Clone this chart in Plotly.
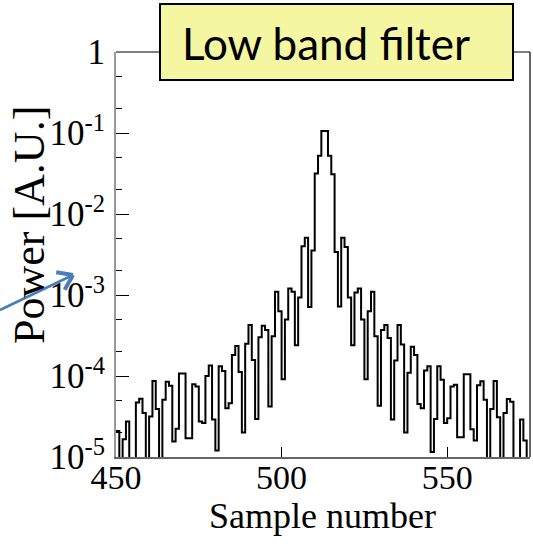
import math
import plotly.graph_objects as go

# ---------------- data ----------------
sample_start = 450          # first bin (bins of width 1)
power = [
    2.1e-5, 1e-6, 1.66e-5, 2.75e-5, 1e-6, 1e-6, 4.7e-5, 5.25e-5, 3.5e-5, 1e-6,        # 450-459
    3.16e-5, 8.7e-5, 3.9e-5, 1e-6, 5.1e-5, 8.5e-5, 7.6e-5, 1.55e-5, 2.24e-5, 1.07e-4, # 460-469
    1.07e-4, 1.7e-5, 1.7e-5, 7.9e-5, 7.4e-5, 2.75e-5, 2.63e-5, 1.0e-4, 1.35e-4, 2.9e-5, # 470-479
    1.2e-5, 1.32e-4, 1.15e-4, 4.0e-5, 4.6e-5, 1.82e-4, 2.34e-4, 1.12e-4, 2.0e-5, 2.5e-4, # 480-489
    4.27e-4, 1.58e-4, 2.95e-5, 3.0e-4, 4.17e-4, 3.7e-4, 4.2e-5, 3.1e-4, 1.1e-3, 6.3e-4, # 490-499
    9.1e-5, 5.0e-4, 1.2e-3, 1.1e-3, 2.4e-4, 9.3e-4, 4.0e-3, 5.1e-3, 7.1e-4, 3.55e-3,  # 500-509
    3.16e-2, 5.25e-2, 0.106, 0.106, 5.25e-2, 3.1e-2, 3.4e-3, 7.2e-4, 5.1e-3, 3.9e-3,  # 510-519
    9.3e-4, 2.4e-4, 1.07e-3, 1.2e-3, 5.0e-4, 9.1e-5, 6.3e-4, 1.1e-3, 3.1e-4, 4.3e-5,  # 520-529
    3.7e-4, 4.27e-4, 2.95e-4, 2.9e-5, 1.55e-4, 4.27e-4, 2.45e-4, 2.0e-5, 1.1e-4, 2.3e-4, # 530-539
    1.82e-4, 4.5e-5, 4.0e-5, 1.17e-4, 1.32e-4, 1.15e-5, 2.95e-5, 1.32e-4, 9.0e-5, 2.63e-5, # 540-549
    3.0e-5, 7.4e-5, 7.8e-5, 1.75e-5, 1.75e-5, 1.05e-4, 1.05e-4, 2.2e-5, 1.6e-5, 7.7e-5, # 550-559
    8.6e-5, 5.1e-5, 1e-6, 3.9e-5, 8.7e-5, 3.1e-5, 1e-6, 3.5e-5, 5.2e-5, 4.8e-5,      # 560-569
    1e-6, 1e-6, 2.9e-5, 1.6e-5, 1e-6,                                                 # 570-574
]
x_tick_vals = [450, 500, 550]
y_tick_vals = [1e-5, 1e-4, 1e-3, 1e-2, 1e-1, 1]
y_tick_text = ["10<sup>-5</sup>", "10<sup>-4</sup>", "10<sup>-3</sup>",
               "10<sup>-2</sup>", "10<sup>-1</sup>", "1"]
title_text = "Low band filter"
x_label = "Sample number"
y_label = "Power [A.U.]"

# ---------------- figure ----------------
W, H = 533, 548
ML, MR, MT, MB = 116, 3, 52, 91
PW, PH = W - ML - MR, H - MT - MB

def px(xp):  # pixel -> paper x
    return (xp - ML) / PW

def py(yp):  # pixel -> paper y
    return (H - MB - yp) / PH

edges = [sample_start + i for i in range(len(power) + 1)]
steps = power + [power[-1]]

fig = go.Figure()
fig.add_trace(go.Scatter(
    x=edges, y=steps, mode="lines", line_shape="hv",
    line=dict(color="black", width=2), hoverinfo="skip", showlegend=False))

serif = "Liberation Serif"
fig.update_layout(
    width=W, height=H, margin=dict(l=ML, r=MR, t=MT, b=MB),
    paper_bgcolor="white", plot_bgcolor="white", showlegend=False,
    xaxis=dict(range=[sample_start, sample_start + len(power)],
               tickvals=x_tick_vals, ticks="inside", ticklen=10, tickwidth=1,
               tickcolor="black", showgrid=False, zeroline=False,
               showline=True, linecolor="#666", linewidth=1.5,
               ticklabelstandoff=-11,
               tickfont=dict(family=serif, size=34, color="black")),
    yaxis=dict(type="log", range=[-5, 0], tickvals=y_tick_vals, ticktext=y_tick_text,
               ticks="inside", ticklen=13, tickwidth=1.2, tickcolor="black",
               minor=dict(ticks="inside", ticklen=6, tickcolor="black", tickwidth=1, showgrid=False),
               showgrid=False, zeroline=False, showline=True, linecolor="#999", linewidth=2,
               ticklabelstandoff=2,
               tickfont=dict(family=serif, size=35, color="black")),
)

# top & right frame
fig.add_shape(type="line", xref="paper", yref="paper", x0=0, x1=1, y0=1, y1=1,
              line=dict(color="black", width=1.2))
fig.add_shape(type="line", xref="paper", yref="paper", x0=1, x1=1, y0=0, y1=1,
              line=dict(color="black", width=1.2))

# title box
fig.add_shape(type="rect", xref="paper", yref="paper",
              x0=px(160), x1=px(513), y0=py(80), y1=py(4),
              fillcolor="#f5f6a2", line=dict(color="black", width=2), layer="above")
fig.add_annotation(xref="paper", yref="paper", x=px(180), y=py(43),
                   xanchor="left", yanchor="middle", showarrow=False,
                   text=title_text, font=dict(family="Lato", size=44, color="black"))

# axis titles
fig.add_annotation(xref="paper", yref="paper", x=px(322), y=py(516),
                   xanchor="center", yanchor="middle", showarrow=False,
                   text=x_label, font=dict(family=serif, size=36, color="black"))
fig.add_annotation(xref="paper", yref="paper", x=px(29), y=py(225),
                   xanchor="center", yanchor="middle", showarrow=False, textangle=-90,
                   text=y_label, font=dict(family=serif, size=44, color="black"))

# blue arrow
tail = (0, 310)
tip = (73, 275)
blue = "rgb(74,126,187)"
fig.add_shape(type="line", xref="paper", yref="paper",
              x0=px(tail[0]), y0=py(tail[1]), x1=px(tip[0]), y1=py(tip[1]),
              line=dict(color=blue, width=2.5))
ang = math.atan2(tip[1] - tail[1], tip[0] - tail[0])
for d in (math.radians(35), -math.radians(35)):
    a = ang + math.pi + d
    wx, wy = tip[0] + 17 * math.cos(a), tip[1] + 17 * math.sin(a)
    fig.add_shape(type="line", xref="paper", yref="paper",
                  x0=px(tip[0]), y0=py(tip[1]), x1=px(wx), y1=py(wy),
                  line=dict(color=blue, width=4))

fig.write_html("out.html")
